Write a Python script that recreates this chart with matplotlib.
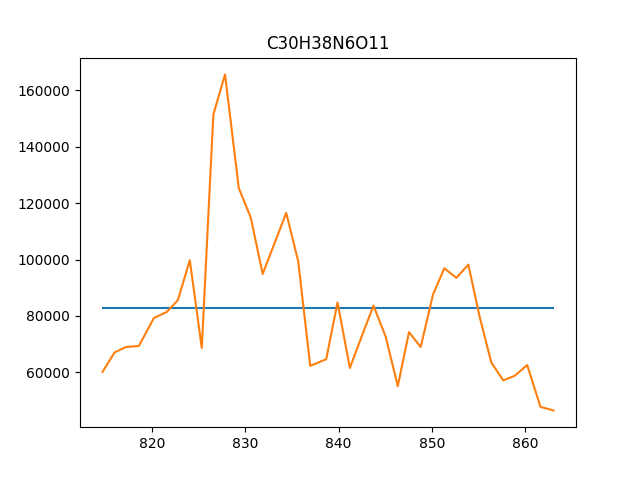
import matplotlib
matplotlib.use("Agg")
from matplotlib import pyplot as plt

title = "C30H38N6O11"

mz = [814.74, 816.03, 817.24, 818.63, 820.24, 821.62, 822.80, 824.08, 825.36,
      826.60, 827.85, 829.32, 830.60, 831.88, 833.14, 834.40, 835.68, 836.97,
      838.68, 839.89, 841.21, 842.47, 843.74, 845.05, 846.34, 847.54, 848.79,
      850.11, 851.32, 852.61, 853.89, 855.10, 856.35, 857.63, 858.84, 860.19,
      861.61, 863.00]
intensity = [60200, 67100, 69000, 69400, 79300, 81450, 85600, 99750, 68700,
             151400, 165600, 125350, 114900, 94900, 105700, 116500, 99400, 62300,
             64700, 84800, 61600, 72700, 83700, 72600, 55150, 74300, 69000,
             87600, 96900, 93500, 98200, 79700, 63500, 57200, 58800, 62600,
             47800, 46550]
mean_level = 82870

fig = plt.figure(figsize=(6.4, 4.8), dpi=100)
plt.plot([mz[0], mz[-1]], [mean_level, mean_level])
plt.plot(mz, intensity)
plt.title(title)
plt.savefig("out.png")
